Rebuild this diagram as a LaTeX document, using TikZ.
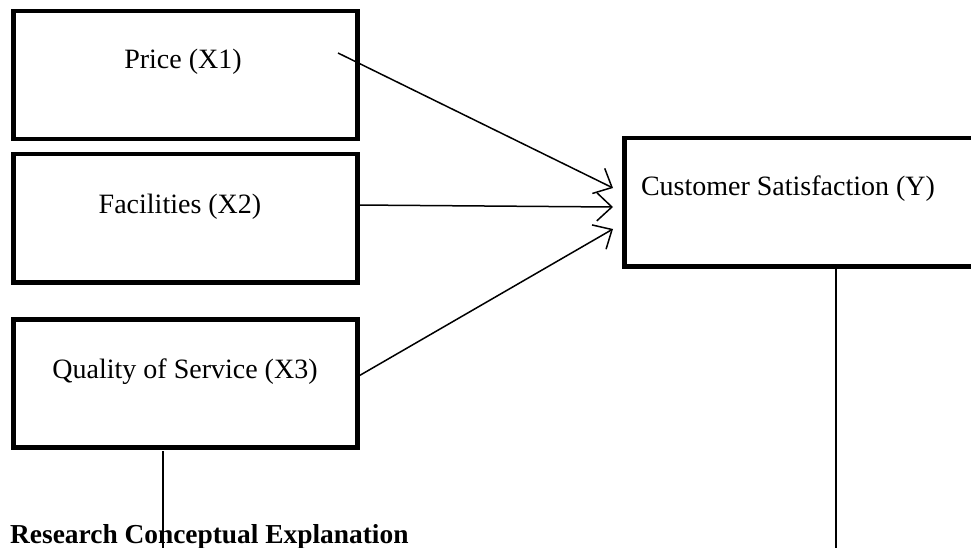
\documentclass[tikz,border=0pt]{standalone}
\usepackage{fontspec}
\setmainfont{Liberation Serif}
\usetikzlibrary{arrows.meta}
\tikzset{
  boxnode/.style={draw, line width=4.5pt, rectangle, inner sep=0pt, anchor=north west},
  lbl/.style={font=\fontsize{28}{32}\selectfont, anchor=base, inner sep=0pt},
  ttl/.style={font=\fontsize{27.4}{32}\selectfont\bfseries, anchor=base west, inner sep=0pt},
  arr/.style={line width=1.5pt, -{Straight Barb[length=15pt, width=28pt, line width=1.5pt]}},
  vline/.style={line width=2pt}
}
\begin{document}
\begin{tikzpicture}[x=1pt,y=-1pt]
\useasboundingbox (0,0) rectangle (971,548);
\clip (0,0) rectangle (971,548);
% boxes
\node[boxnode, minimum width=344pt, minimum height=128pt] (p) at (11,9) {};
\node[boxnode, minimum width=344pt, minimum height=128pt] (f) at (11,152) {};
\node[boxnode, minimum width=344pt, minimum height=128pt] (q) at (11,317) {};
\node[boxnode, minimum width=400pt, minimum height=128pt] (y) at (622,136) {};
% labels
\node[lbl] (pt) at (183,69) {Price (X1)};
\node[lbl] (ft) at (180,213) {Facilities (X2)};
\node[lbl] (qt) at (185,378) {Quality of Service (X3)};
\node[lbl] (yt) at (788,196) {Customer Satisfaction (Y)};
\node[ttl] (title) at (10,543) {Research Conceptual Explanation};
% arrow endpoints
\coordinate (ps) at (338,53);
\coordinate (pe) at (613,188);
\coordinate (fs) at (356,205);
\coordinate (fe) at (613,207);
\coordinate (qs) at (357,377);
\coordinate (qe) at (613,229);
\draw[arr] (ps) -- (pe);
\draw[arr] (fs) -- (fe);
\draw[arr] (qs) -- (qe);
% vertical lines
\coordinate (qa) at (163,451);
\coordinate (qb) at (163,548);
\coordinate (ya) at (836,264);
\coordinate (yb) at (836,548);
\draw[vline] (qa) -- (qb);
\draw[vline] (ya) -- (yb);
\end{tikzpicture}
\end{document}
